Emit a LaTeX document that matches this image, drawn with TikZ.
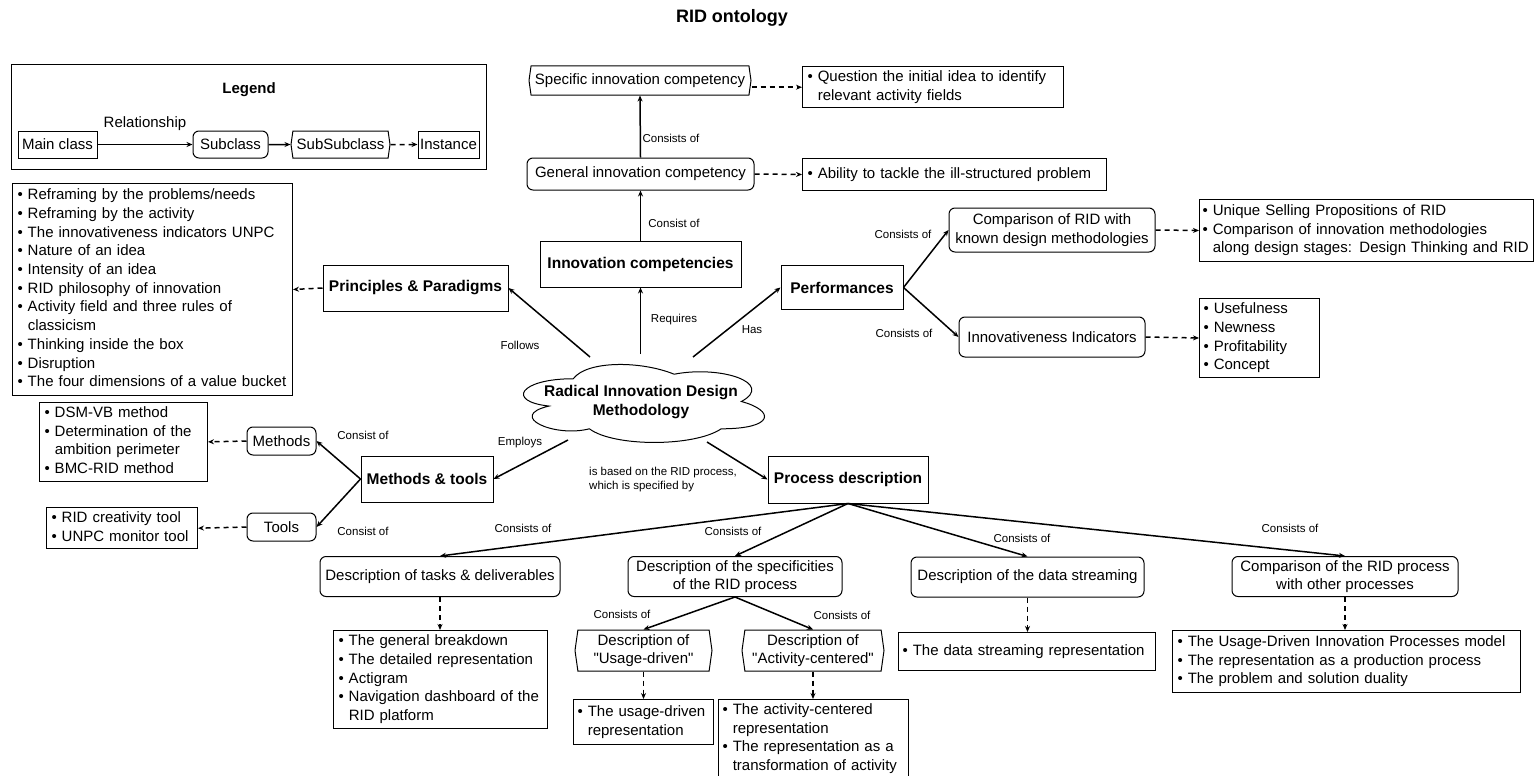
\documentclass[tikz,border=0pt]{standalone}
\usepackage{fontspec}
\setmainfont{Liberation Sans}[Ligatures=TeXOff]
\usetikzlibrary{shapes.symbols,arrows.meta,calc}
\newcommand{\bul}{\textbullet\ }
\newcommand{\hng}{\hphantom{\textbullet\ }}
\newcommand{\lst}[1]{\begin{tabular}{@{}l@{}}#1\end{tabular}}
\tikzset{
 every node/.style={font=\fontsize{15}{18.7}\selectfont},
 cls/.style={draw, line width=1pt, align=center, inner sep=2pt},
 mainc/.style={cls, font=\fontsize{15.5}{18.5}\selectfont\bfseries},
 subc/.style={cls, rounded corners=6pt},
 hexa/.style={cls, signal, signal to=west and east, signal pointer angle=164},
 ilist/.style={draw, line width=1pt, align=left, anchor=north west, inner xsep=5pt, inner ysep=2pt},
 lbl/.style={font=\fontsize{11.5}{14}\selectfont, inner sep=0pt},
 conn/.style={line width=1.5pt, -{Stealth[length=6pt,width=5pt]}},
 dconn/.style={conn, dash pattern=on 5pt off 4pt},
 cloudline/.style={draw, line width=1pt},
}
\begin{document}
\begin{tikzpicture}[x=1pt,y=-1pt]
\useasboundingbox (0,0) rectangle (1540,776);
\node[font=\fontsize{18}{20}\selectfont\bfseries] (title) at (732,18) {RID ontology};

% legend
\node[draw, line width=1pt, minimum width=475pt, minimum height=105pt, anchor=north west] (legend) at (11,64) {};
\node[font=\fontsize{15}{18}\selectfont\bfseries] (legtitle) at (249,90) {Legend};
\node[cls, minimum width=79pt, minimum height=27pt] (lmain) at (57.5,144.5) {Main class};
\node[subc, minimum width=75pt, minimum height=27pt] (lsub) at (230.5,144.5) {Subclass};
\node[hexa, minimum width=99pt, minimum height=27pt] (lss) at (340.5,144.5) {SubSubclass};
\node[cls, minimum width=61pt, minimum height=27pt, inner xsep=1pt] (linst) at (448.5,144.5) {Instance};
\node (lrel) at (145,124) {Relationship};
\draw[conn] (lmain) -- (lsub);
\draw[conn] (lsub) -- (lss);
\draw[dconn] (lss) -- (linst);

% top competencies
\node[hexa, minimum width=222pt, minimum height=29pt] (spec) at (640,80.5) {Specific innovation competency};
\node[ilist, text width=251pt, minimum height=41pt] (qlist) at (802,66) {\lst{\bul Question the initial idea to identify\\\hng relevant activity fields}};
\node[subc, minimum width=227pt, minimum height=32pt] (gen) at (640.5,174) {General innovation competency};
\node[ilist, text width=294pt, minimum height=32pt] (ablist) at (802,158) {\lst{\bul Ability to tackle the ill-structured problem}};
\node[mainc, minimum width=201pt, minimum height=46pt] (ic) at (640.5,264) {Innovation competencies};

% principles
\node[mainc, minimum width=185pt, minimum height=46pt] (pp) at (415.5,288) {Principles \& Paradigms};
\node[ilist, text width=270pt, minimum height=212pt] (plist) at (12,183) {\lst{\bul Reframing by the problems/needs\\\bul Reframing by the activity\\\bul The innovativeness indicators UNPC\\\bul Nature of an idea\\\bul Intensity of an idea\\\bul RID philosophy of innovation\\\bul Activity field and three rules of\\\hng classicism\\\bul Thinking inside the box\\\bul Disruption\\\bul The four dimensions of a value bucket}};

% performances
\node[mainc, minimum width=122pt, minimum height=44pt] (perf) at (842,287.5) {Performances};
\node[subc, minimum width=206pt, minimum height=44pt] (cmpk) at (1052,230) {Comparison of RID with\\known design methodologies};
\node[ilist, text width=328pt, inner xsep=3pt, minimum height=62pt] (usp) at (1199,199) {\lst{\bul Unique Selling Propositions of RID\\\bul Comparison of innovation methodologies\\\hng along design stages: Design Thinking and RID}};
\node[subc, minimum width=186pt, minimum height=40pt] (innov) at (1052,337) {Innovativeness Indicators};
\node[ilist, text width=112pt, inner xsep=4pt, minimum height=79pt] (unpc) at (1199,298) {\lst{\bul Usefulness\\\bul Newness\\\bul Profitability\\\bul Concept}};

% cloud (drawn directly)
\path[cloudline] (573.25,378.75)
  .. controls (519.45,378.75) and (506,401.5) .. (549.04,406.05)
  .. controls (506,416.06) and (554.42,437.9) .. (589.39,428.8)
  .. controls (613.6,447) and (694.3,447) .. (721.2,428.8)
  .. controls (775,428.8) and (775,410.6) .. (741.375,401.5)
  .. controls (775,383.3) and (721.2,365.1) .. (674.125,374.2)
  .. controls (640.5,360.55) and (586.7,360.55) .. (573.25,378.75) -- cycle;
\node[font=\fontsize{15.5}{18.5}\selectfont\bfseries, align=center] (ridtxt) at (641,402) {Radical Innovation Design\\Methodology};

% methods & tools
\node[mainc, minimum width=132pt, minimum height=46pt] (mt) at (427,479) {Methods \& tools};
\node[subc, minimum width=69pt, minimum height=28pt] (meth) at (281.5,441) {Methods};
\node[subc, minimum width=69pt, minimum height=28pt] (tools) at (281.5,527) {Tools};
\node[ilist, text width=158pt, minimum height=76pt] (mlist) at (39,402) {\lst{\bul DSM-VB method\\\bul Determination of the\\\hng ambition perimeter\\\bul BMC-RID method}};
\node[ilist, text width=141pt, minimum height=41pt] (tlist) at (46,507) {\lst{\bul RID creativity tool\\\bul UNPC monitor tool}};

% process
\node[mainc, minimum width=160pt, minimum height=47pt] (pd) at (848,479.5) {Process description};
\node[subc, minimum width=240pt, minimum height=40pt] (tasks) at (440,576.5) {Description of tasks \& deliverables};
\node[subc, minimum width=214pt, minimum height=40pt] (sprid) at (735,576.5) {Description of the specificities\\of the RID process};
\node[subc, minimum width=233pt, minimum height=40pt] (dstr) at (1027.5,577) {Description of the data streaming};
\node[subc, minimum width=226pt, minimum height=40pt] (cproc) at (1345,576.5) {Comparison of the RID process\\with other processes};
\node[ilist, text width=204pt, minimum height=98pt] (tdlist) at (333,630) {\lst{\bul The general breakdown\\\bul The detailed representation\\\bul Actigram\\\bul Navigation dashboard of the\\\hng RID platform}};
\node[hexa, minimum width=137pt, minimum height=41pt] (usage) at (643.5,650.5) {Description of\\"Usage-driven"};
\node[hexa, minimum width=142pt, minimum height=41pt] (actc) at (813,650.5) {Description of\\"Activity-centered"};
\node[ilist, text width=132pt, inner xsep=4pt, minimum height=45pt] (ulist) at (573,699) {\lst{\bul The usage-driven\\\hng representation}};
\node[ilist, text width=182pt, inner xsep=4pt, minimum height=76pt] (alist) at (718,699) {\lst{\bul The activity-centered\\\hng representation\\\bul The representation as a\\\hng transformation of activity}};
\node[ilist, text width=249pt, inner xsep=4pt, minimum height=38pt] (dlist) at (898,632) {\lst{\bul The data streaming representation}};
\node[ilist, text width=338pt, minimum height=62pt] (clist) at (1172,630) {\lst{\bul The Usage-Driven Innovation Processes model\\\bul The representation as a production process\\\bul The problem and solution duality}};

% labels
\node[lbl] (l1) at (671,138) {Consists of};
\node[lbl] (l2) at (674,223) {Consist of};
\node[lbl] (l3) at (674,320) {Requires};
\node[lbl] (l4) at (520,345) {Follows};
\node[lbl] (l5) at (752,330) {Has};
\node[lbl] (l6) at (903,234) {Consists of};
\node[lbl] (l7) at (904,333) {Consists of};
\node[lbl] (l8) at (520,443) {Employs};
\node[lbl] (l9) at (363,435) {Consist of};
\node[lbl] (l10) at (363,531) {Consist of};
\node[lbl, align=left, anchor=west] (l11) at (589,480) {is based on the RID process,\\which is specified by};
\node[lbl] (l12) at (523,528) {Consists of};
\node[lbl] (l13) at (733,531) {Consists of};
\node[lbl] (l14) at (1022,538) {Consists of};
\node[lbl] (l15) at (1290,528) {Consists of};
\node[lbl] (l16) at (622,614) {Consists of};
\node[lbl] (l17) at (842,615) {Consists of};

% cloud connection points
\coordinate (creq) at (640.5,354);
\coordinate (cfol) at (590,357);
\coordinate (chas) at (693,357);
\coordinate (cemp) at (568,440);
\coordinate (cpd) at (707,442);

\draw[conn] (creq) -- (ic.south);
\draw[conn] (cfol) -- (pp.east);
\draw[conn] (chas) -- (perf.west);
\draw[conn] (cemp) -- (mt.east);
\draw[conn] (cpd) -- (pd.west);
\draw[conn] (ic.north) -- (gen.south);
\draw[conn] (gen.north) -- (spec.south);
\draw[dconn] (spec.east |- qlist.west) -- (qlist.west);
\draw[dconn] (gen.east) -- (ablist.west);
\draw[dconn] (pp.west) -- (plist.east);
\draw[conn] (perf.east) -- (cmpk.west);
\draw[conn] (perf.east) -- (innov.west);
\draw[dconn] (cmpk.east) -- (usp.west);
\draw[dconn] (innov.east) -- (unpc.west);
\draw[conn] (mt.west) -- (meth.east);
\draw[conn] (mt.west) -- (tools.east);
\draw[dconn] (meth.west) -- (mlist.east);
\draw[dconn] (tools.west) -- (tlist.east);
\draw[conn] (pd.south) -- (tasks.north);
\draw[conn] (pd.south) -- (sprid.north);
\draw[conn] (pd.south) -- (dstr.north);
\draw[conn] (pd.south) -- (cproc.north);
\draw[conn] (sprid.south) -- (usage.north);
\draw[conn] (sprid.south) -- (actc.north);
\draw[dconn] (tasks.south) -- (tasks.south |- tdlist.north);
\draw[dconn] (usage.south) -- (usage.south |- ulist.north);
\draw[dconn] (actc.south) -- (actc.south |- alist.north);
\draw[dconn] (dstr.south) -- (dstr.south |- dlist.north);
\draw[dconn] (cproc.south) -- (cproc.south |- clist.north);
\end{tikzpicture}
\end{document}
